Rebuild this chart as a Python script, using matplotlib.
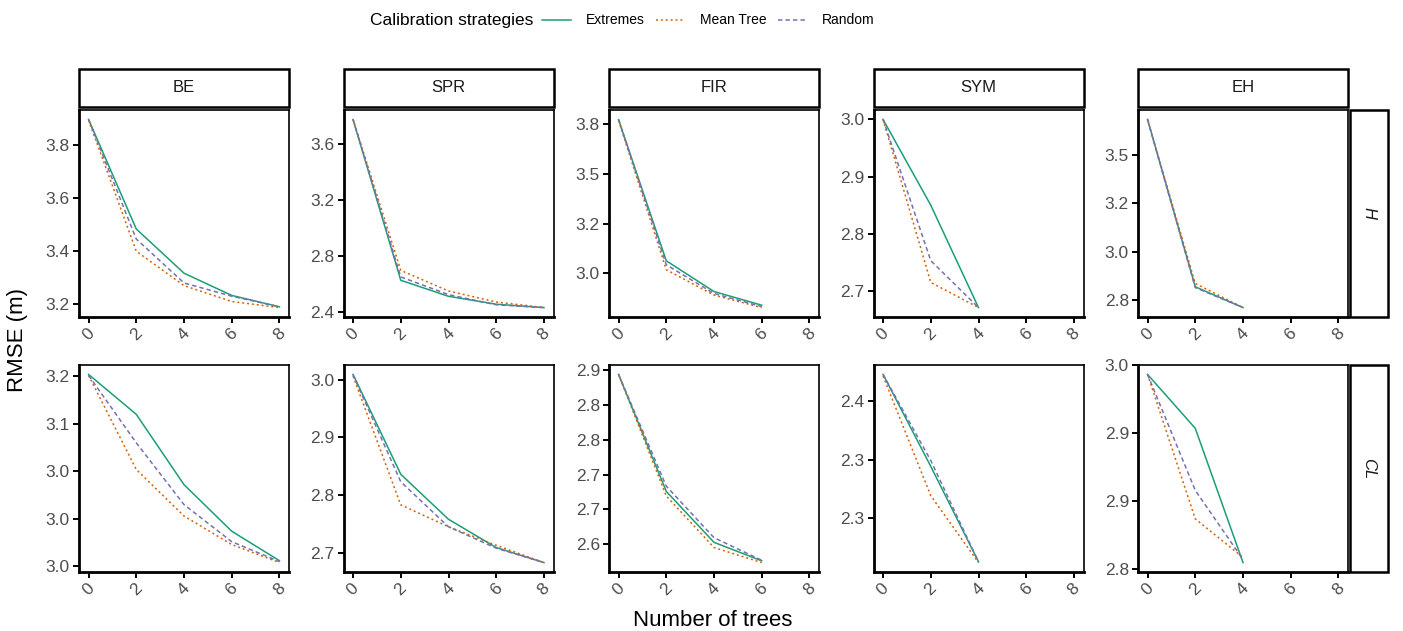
import matplotlib
matplotlib.use("Agg")
import matplotlib.pyplot as plt
from matplotlib.lines import Line2D
from matplotlib.patches import Rectangle

plt.rcParams['font.family'] = ['Liberation Sans', 'DejaVu Sans']

# ---------------- data ----------------
species = ['BE', 'SPR', 'FIR', 'SYM', 'EH']
responses = ['H', 'CL']
strategies = ['Extremes', 'Mean Tree', 'Random']

trees_8 = [0, 2, 4, 6, 8]
trees_6 = [0, 2, 4, 6]
trees_4 = [0, 2, 4]

# Row H
be_h_ext = [3.898, 3.484, 3.317, 3.233, 3.190]
be_h_mean = [3.895, 3.400, 3.270, 3.210, 3.187]
be_h_rand = [3.898, 3.446, 3.280, 3.230, 3.190]

spr_h_ext = [3.779, 2.626, 2.511, 2.454, 2.430]
spr_h_mean = [3.780, 2.697, 2.549, 2.470, 2.430]
spr_h_rand = [3.780, 2.650, 2.523, 2.450, 2.430]

fir_h_ext = [3.774, 3.062, 2.907, 2.838]
fir_h_mean = [3.770, 3.017, 2.889, 2.826]
fir_h_rand = [3.775, 3.042, 2.897, 2.831]

sym_h_ext = [3.000, 2.850, 2.671]
sym_h_mean = [3.000, 2.715, 2.671]
sym_h_rand = [3.000, 2.753, 2.671]

eh_h_ext = [3.681, 2.819, 2.712]
eh_h_mean = [3.680, 2.836, 2.712]
eh_h_rand = [3.680, 2.815, 2.712]

# Row CL
be_cl_ext = [3.202, 3.160, 3.086, 3.037, 3.006]
be_cl_mean = [3.201, 3.102, 3.053, 3.023, 3.004]
be_cl_rand = [3.201, 3.130, 3.065, 3.026, 3.005]

spr_cl_ext = [3.009, 2.836, 2.758, 2.709, 2.683]
spr_cl_mean = [3.006, 2.783, 2.745, 2.713, 2.683]
spr_cl_rand = [3.008, 2.823, 2.745, 2.708, 2.683]

fir_cl_ext = [2.893, 2.691, 2.603, 2.571]
fir_cl_mean = [2.893, 2.683, 2.594, 2.568]
fir_cl_rand = [2.893, 2.700, 2.611, 2.572]

sym_cl_ext = [2.432, 2.322, 2.208]
sym_cl_mean = [2.430, 2.287, 2.207]
sym_cl_rand = [2.432, 2.329, 2.208]

eh_cl_ext = [2.991, 2.938, 2.806]
eh_cl_mean = [2.991, 2.849, 2.811]
eh_cl_rand = [2.991, 2.877, 2.809]

# y tick positions and their printed labels per panel
ticks_be_h = [3.2, 3.4, 3.6, 3.8]
labels_be_h = ['3.2', '3.4', '3.6', '3.8']
ticks_spr_h = [2.4, 2.8, 3.2, 3.6]
labels_spr_h = ['2.4', '2.8', '3.2', '3.6']
ticks_fir_h = [3.0, 3.25, 3.5, 3.75]
labels_fir_h = ['3.0', '3.2', '3.5', '3.8']
ticks_sym_h = [2.7, 2.8, 2.9, 3.0]
labels_sym_h = ['2.7', '2.8', '2.9', '3.0']
ticks_eh_h = [2.75, 3.0, 3.25, 3.5]
labels_eh_h = ['2.8', '3.0', '3.2', '3.5']

ticks_be_cl = [3.0, 3.05, 3.1, 3.15, 3.2]
labels_be_cl = ['3.0', '3.0', '3.0', '3.1', '3.2']
ticks_spr_cl = [2.7, 2.8, 2.9, 3.0]
labels_spr_cl = ['2.7', '2.8', '2.9', '3.0']
ticks_fir_cl = [2.6, 2.66, 2.72, 2.78, 2.84, 2.9]
labels_fir_cl = ['2.6', '2.7', '2.7', '2.8', '2.8', '2.9']
ticks_sym_cl = [2.26, 2.33, 2.4]
labels_sym_cl = ['2.3', '2.3', '2.4']
ticks_eh_cl = [2.8, 2.8667, 2.9333, 3.0]
labels_eh_cl = ['2.8', '2.9', '2.9', '3.0']

x_ticks = [0, 2, 4, 6, 8]

panels = {
    ('H', 'BE'): (trees_8, [be_h_ext, be_h_mean, be_h_rand], ticks_be_h, labels_be_h),
    ('H', 'SPR'): (trees_8, [spr_h_ext, spr_h_mean, spr_h_rand], ticks_spr_h, labels_spr_h),
    ('H', 'FIR'): (trees_6, [fir_h_ext, fir_h_mean, fir_h_rand], ticks_fir_h, labels_fir_h),
    ('H', 'SYM'): (trees_4, [sym_h_ext, sym_h_mean, sym_h_rand], ticks_sym_h, labels_sym_h),
    ('H', 'EH'): (trees_4, [eh_h_ext, eh_h_mean, eh_h_rand], ticks_eh_h, labels_eh_h),
    ('CL', 'BE'): (trees_8, [be_cl_ext, be_cl_mean, be_cl_rand], ticks_be_cl, labels_be_cl),
    ('CL', 'SPR'): (trees_8, [spr_cl_ext, spr_cl_mean, spr_cl_rand], ticks_spr_cl, labels_spr_cl),
    ('CL', 'FIR'): (trees_6, [fir_cl_ext, fir_cl_mean, fir_cl_rand], ticks_fir_cl, labels_fir_cl),
    ('CL', 'SYM'): (trees_4, [sym_cl_ext, sym_cl_mean, sym_cl_rand], ticks_sym_cl, labels_sym_cl),
    ('CL', 'EH'): (trees_4, [eh_cl_ext, eh_cl_mean, eh_cl_rand], ticks_eh_cl, labels_eh_cl),
}

# ---------------- style ----------------
colors = {'Extremes': '#1b9e77', 'Mean Tree': '#d95f02', 'Random': '#7570b3'}
styles = {'Extremes': '-', 'Mean Tree': (0, (1.3, 1.9)), 'Random': (0, (2.9, 2.0))}
LW = 1.1
TICK_COLOR = '#4d4d4d'
TICK_FS = 12.5
STRIP_FS = 12

W, H = 1403, 631
fig = plt.figure(figsize=(W / 100, H / 100), dpi=100)


def rect(x0, y0, w, h):
    return [x0 / W, 1 - (y0 + h) / H, w / W, h / H]


def fx(px):
    return px / W


def fy(py):
    return 1 - py / H


col_left = [79, 343.5, 609, 873.5, 1138]
row_top = [110, 365]
pw, ph = 210, 207

for r, resp in enumerate(responses):
    for c, sp in enumerate(species):
        ax = fig.add_axes(rect(col_left[c], row_top[r], pw, ph))
        xs, series, yt, yl = panels[(resp, sp)]
        for strat, ys in zip(strategies, series):
            ax.plot(xs, ys, color=colors[strat], linestyle=styles[strat], lw=LW)
        ax.margins(y=0.05)
        ax.set_xlim(-0.4, 8.4)
        ax.set_xticks(x_ticks)
        ax.set_xticklabels([str(v) for v in x_ticks], rotation=45, ha='center',
                           va='top', fontsize=TICK_FS, color=TICK_COLOR)
        ax.set_yticks(yt)
        ax.set_yticklabels(yl, fontsize=TICK_FS, color=TICK_COLOR)
        ax.tick_params(axis='both', length=4, width=1.4, color='black', pad=2.5)
        for s in ['left', 'bottom']:
            ax.spines[s].set_linewidth(2.0)
        for s in ['top', 'right']:
            ax.spines[s].set_linewidth(1.2)
        # top strips
        if r == 0:
            fig.patches.append(Rectangle((fx(col_left[c]), fy(107)), pw / W, 38 / H,
                                         transform=fig.transFigure, facecolor='white',
                                         edgecolor='black', lw=1.8))
            fig.text(fx(col_left[c] + pw / 2), fy(88), sp, ha='center', va='center',
                     fontsize=STRIP_FS, color='#1a1a1a')
    # right strips
    fig.patches.append(Rectangle((fx(1350), fy(row_top[r] + ph)), 38 / W, ph / H,
                                 transform=fig.transFigure, facecolor='white',
                                 edgecolor='black', lw=1.8))
    fig.text(fx(1369), fy(row_top[r] + ph / 2), resp, ha='center', va='center',
             rotation=-90, fontsize=STRIP_FS, style='italic', color='#1a1a1a')

# axis titles
fig.text(fx(18), fy(340), 'RMSE (m)', rotation=90, ha='center', va='center', fontsize=16)
fig.text(fx(713), fy(620), 'Number of trees', ha='center', va='center', fontsize=16)

# legend (drawn as a horizontal key row)
LEG_Y = 20
fig.text(fx(370), fy(LEG_Y), 'Calibration strategies', ha='left', va='center', fontsize=12.5)
key_x0 = [542, 656, 778]
key_len = 29
for strat, x0 in zip(strategies, key_x0):
    fig.add_artist(Line2D([fx(x0), fx(x0 + key_len)], [fy(LEG_Y), fy(LEG_Y)],
                          transform=fig.transFigure, color=colors[strat],
                          linestyle=styles[strat], lw=LW))
    fig.text(fx(x0 + key_len + 15), fy(LEG_Y), strat, ha='left', va='center', fontsize=10)

fig.savefig('out.png', dpi=100)
